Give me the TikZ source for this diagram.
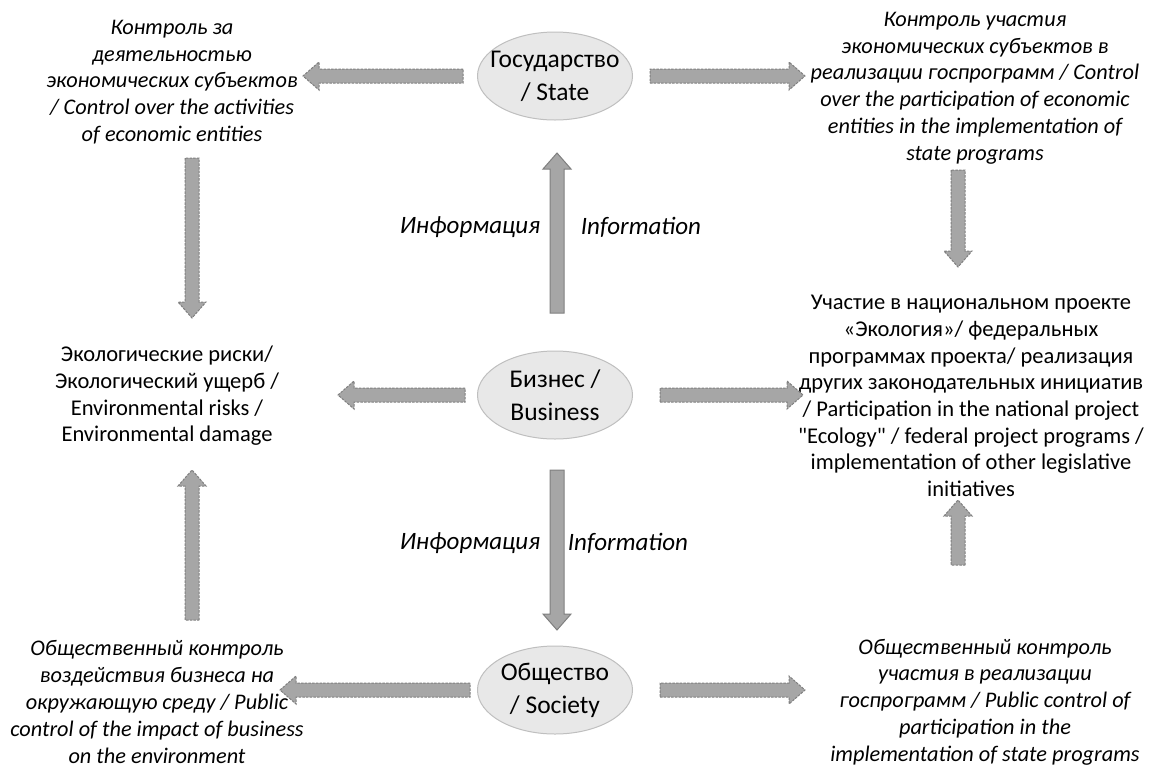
\documentclass[tikz,border=0pt]{standalone}
\usepackage{fontspec}
\setmainfont{Carlito}[Ligatures=TeXOff]
\usetikzlibrary{calc,shapes.geometric}
\definecolor{arrowfill}{HTML}{A6A6A6}
\definecolor{arrowline}{HTML}{7F7F7F}
\definecolor{ellfill}{HTML}{E8E8E8}
\definecolor{ellline}{HTML}{BFBFBF}
\newcommand{\blockarrow}[3][]{%
  \path[#1] let \p1=(#2), \p2=(#3), \n1={atan2(\y2-\y1,\x2-\x1)}, \n2={veclen(\x2-\x1,\y2-\y1)} in
  [shift={(\p1)}, rotate=\n1] (0pt,-7pt) -- ({\n2*1pt-16pt},-7pt) -- ({\n2*1pt-16pt},-14pt) -- ({\n2*1pt},0pt) -- ({\n2*1pt-16pt},14pt) -- ({\n2*1pt-16pt},7pt) -- (0pt,7pt) -- cycle;}
\tikzset{
  ell/.style={ellipse, draw=ellline, fill=ellfill, line width=1pt, minimum width=155pt, minimum height=88pt, inner xsep=-12pt, inner ysep=0pt, align=center, font=\fontsize{25.5}{33}\selectfont},
  dasharrow/.style={fill=arrowfill, draw=arrowline, line width=1pt, dash pattern=on 2.5pt off 1.2pt},
  solidarrow/.style={fill=arrowfill, draw=arrowline, line width=1pt},
  itxt/.style={align=center, inner sep=0pt, font=\itshape\fontsize{22.3}{26.8}\selectfont},
  rtxt/.style={align=center, inner sep=0pt, font=\fontsize{22.5}{26.7}\selectfont},
  info/.style={inner sep=0pt, font=\itshape\fontsize{25}{30}\selectfont},
}
\begin{document}
\begin{tikzpicture}[x=1pt,y=-1pt]
\useasboundingbox (0,0) rectangle (1159,769);
% ellipses
\node[ell] (state) at (555,76) {Государство\\/ State};
\node[ell] (business) at (555,395) {Бизнес /\\Business};
\node[ell] (society) at (555,690) {Общество\\/ Society};
% text blocks
\node[itxt] (tl) at (172,82) {Контроль за\\деятельностью\\экономических субъектов\\/ Control over the activities\\of economic entities};
\node[itxt] (tr) at (975,88) {Контроль участия\\экономических субъектов в\\реализации госпрограмм / Control\\over the participation of economic\\entities in the implementation of\\state programs};
\node[rtxt] (ml) at (167,396) {Экологические риски/\\Экологический ущерб /\\Environmental risks /\\Environmental damage};
\node[rtxt] (mr) at (971,396) {Участие в национальном проекте\\«Экология»/ федеральных\\программах проекта/ реализация\\других законодательных инициатив\\/ Participation in the national project\\"Ecology" / federal project programs /\\implementation of other legislative\\initiatives};
\node[itxt] (bl) at (157,702) {Общественный контроль\\воздействия бизнеса на\\окружающую среду / Public\\control of the impact of business\\on the environment};
\node[itxt] (br) at (985,702) {Общественный контроль\\участия в реализации\\госпрограмм / Public control of\\participation in the\\implementation of state programs};
\node[info] (i1) at (470,227) {Информация};
\node[info] (i2) at (641,227) {Information};
\node[info] (i3) at (470,543) {Информация};
\node[info] (i4) at (628,543) {Information};
% arrow ends
\coordinate (a1s) at (463,76);  \coordinate (a1e) at (303,76);
\coordinate (a2s) at (650,76);  \coordinate (a2e) at (805,76);
\coordinate (a3s) at (192,158); \coordinate (a3e) at (192,318);
\coordinate (a4s) at (958,170); \coordinate (a4e) at (958,267);
\coordinate (a5s) at (557,313); \coordinate (a5e) at (557,153);
\coordinate (a6s) at (465,395); \coordinate (a6e) at (338,395);
\coordinate (a7s) at (660,395); \coordinate (a7e) at (803,395);
\coordinate (a8s) at (557,470); \coordinate (a8e) at (557,630);
\coordinate (a9s) at (192,620); \coordinate (a9e) at (192,470);
\coordinate (a10s) at (958,565); \coordinate (a10e) at (958,500);
\coordinate (a11s) at (470,690); \coordinate (a11e) at (280,690);
\coordinate (a12s) at (660,690); \coordinate (a12e) at (805,690);
\blockarrow[dasharrow]{a1s}{a1e}
\blockarrow[dasharrow]{a2s}{a2e}
\blockarrow[dasharrow]{a3s}{a3e}
\blockarrow[dasharrow]{a4s}{a4e}
\blockarrow[solidarrow]{a5s}{a5e}
\blockarrow[dasharrow]{a6s}{a6e}
\blockarrow[dasharrow]{a7s}{a7e}
\blockarrow[solidarrow]{a8s}{a8e}
\blockarrow[dasharrow]{a9s}{a9e}
\blockarrow[dasharrow]{a10s}{a10e}
\blockarrow[dasharrow]{a11s}{a11e}
\blockarrow[dasharrow]{a12s}{a12e}
\end{tikzpicture}
\end{document}
